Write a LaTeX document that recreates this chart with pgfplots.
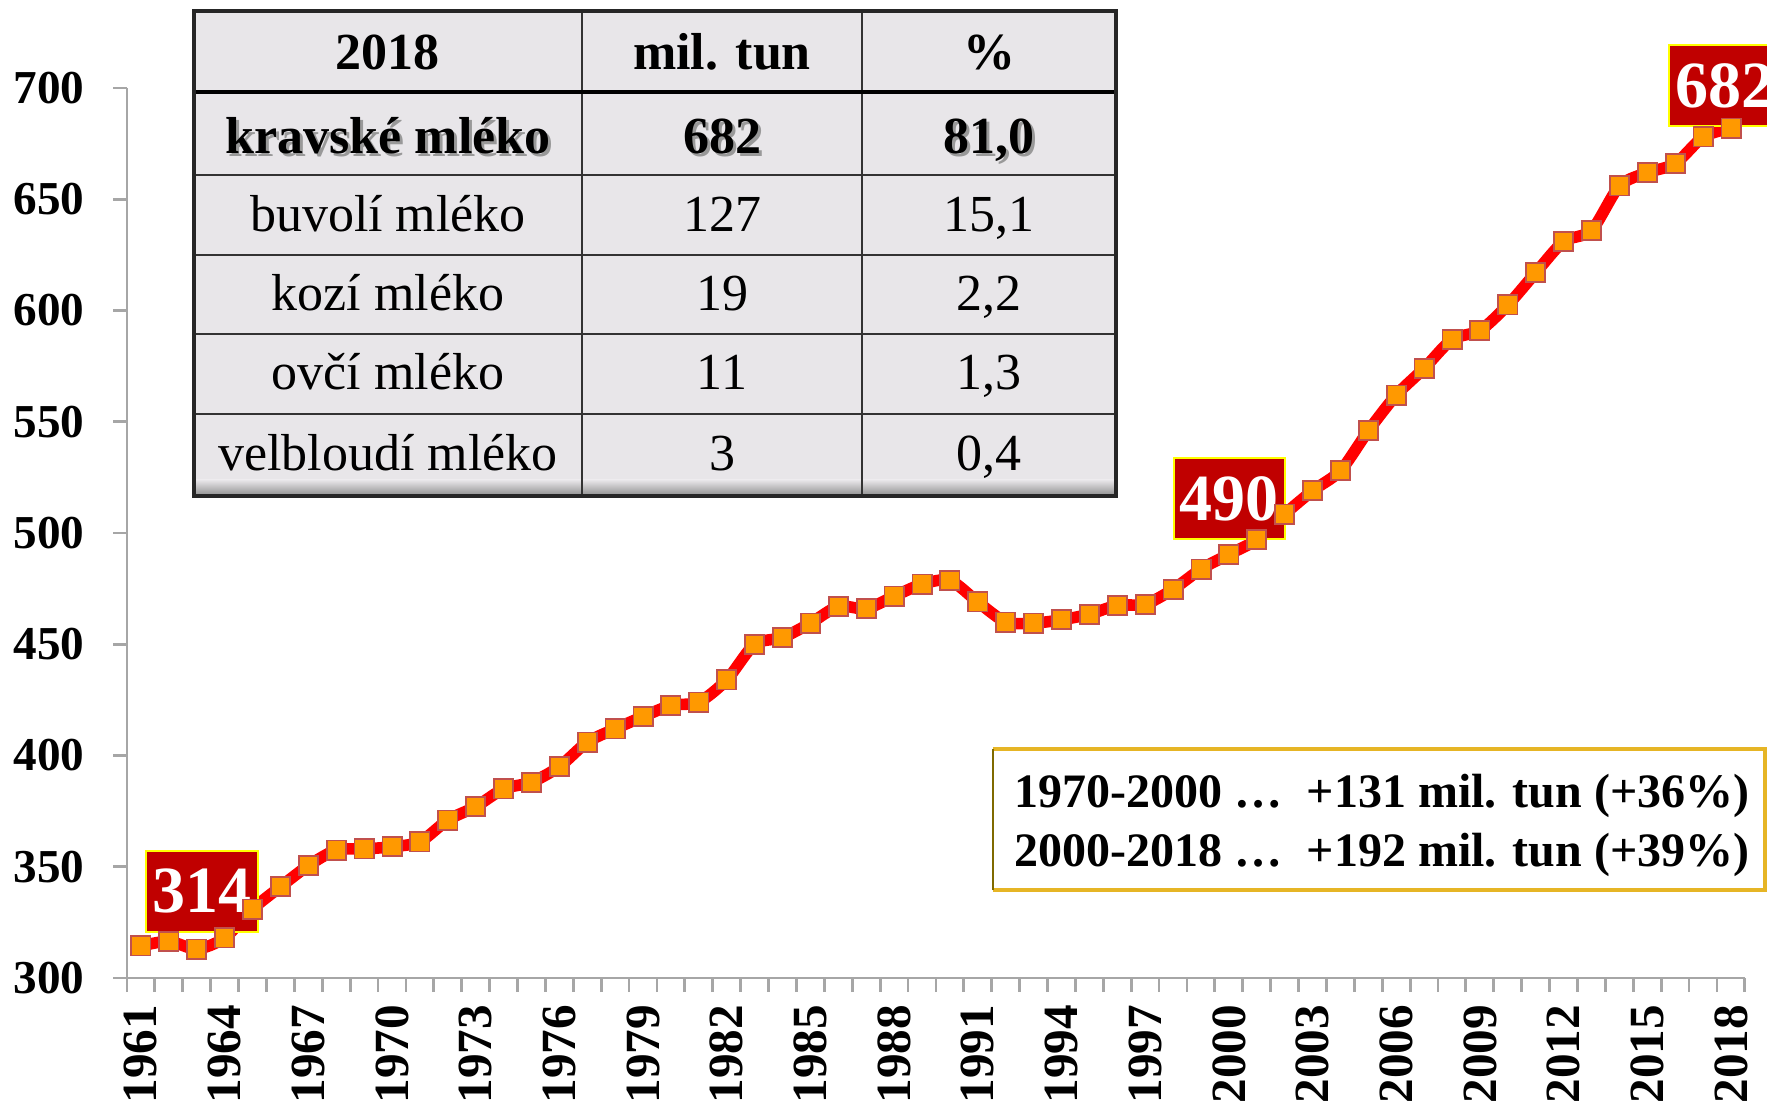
\documentclass[border=0pt]{standalone}
\usepackage{fontspec}
\setmainfont{Liberation Serif}
\usepackage{pgfplots}
\usepackage{pgfplotstable}
\pgfplotsset{compat=1.18}
\definecolor{linered}{HTML}{FF0000}
\definecolor{markfill}{HTML}{FF9900}
\definecolor{markdraw}{HTML}{C0504D}
\definecolor{boxred}{HTML}{C00000}
\definecolor{boxyel}{HTML}{FFFF00}
\definecolor{tabgray}{HTML}{E8E6E9}
\definecolor{axgray}{HTML}{A6A6A6}
\definecolor{gold}{HTML}{E6B525}
\definecolor{olivec}{HTML}{7F6A00}

\pgfplotstableread{
year value
1961 314.4
1962 316.5
1963 313.0
1964 318.0
1965 331.0
1966 341.0
1967 350.5
1968 357.5
1969 358.0
1970 359.0
1971 361.2
1972 371.0
1973 377.0
1974 385.0
1975 388.0
1976 395.0
1977 406.0
1978 412.0
1979 417.5
1980 422.5
1981 424.0
1982 434.0
1983 450.0
1984 453.0
1985 459.5
1986 467.0
1987 466.0
1988 471.6
1989 477.0
1990 478.7
1991 469.0
1992 460.0
1993 459.5
1994 461.0
1995 463.5
1996 467.5
1997 468.0
1998 474.7
1999 483.8
2000 490.4
2001 497.0
2002 508.5
2003 519.0
2004 528.0
2005 546.0
2006 562.0
2007 574.0
2008 587.0
2009 591.0
2010 602.5
2011 617.0
2012 631.0
2013 636.0
2014 656.0
2015 662.0
2016 666.0
2017 678.0
2018 682.0
}\milk

\begin{document}
\begin{tikzpicture}
\useasboundingbox (-31.75pt,-31.5pt) rectangle (410pt,244.5pt);
\clip (-31.75pt,-31.5pt) rectangle (410pt,244.5pt);
\begin{axis}[
  name=ax, at={(0pt,0pt)}, anchor=south west,
  scale only axis, width=404.5pt, height=222.5pt,
  xmin=1960.5, xmax=2018.5, ymin=300, ymax=700,
  axis x line*=bottom, axis y line*=left,
  x axis line style={draw=axgray, line width=0.7pt, -},
  y axis line style={draw=axgray, line width=0.7pt, -},
  clip=false,
  ytick={300,350,...,700},
  xtick={1960.5,1961.5,...,2018.5},
  xticklabels={},
  extra x ticks={1961,1964,1967,1970,1973,1976,1979,1982,1985,1988,1991,1994,1997,2000,2003,2006,2009,2012,2015,2018},
  extra x tick labels={1961,1964,1967,1970,1973,1976,1979,1982,1985,1988,1991,1994,1997,2000,2003,2006,2009,2012,2015,2018},
  extra x tick style={major tick length=0pt, tick style={draw=none}},
  tick align=outside,
  major tick length=3.5pt,
  tick style={draw=axgray, line width=0.7pt},
  /pgf/number format/assume math mode=true,
  /pgf/number format/1000 sep={},
  yticklabel style={font=\bfseries\fontsize{11.8}{12}\selectfont, anchor=east, inner sep=0pt, xshift=-7pt},
  xticklabel style={font=\bfseries\fontsize{12.3}{12}\selectfont, rotate=90, anchor=east, inner ysep=0pt, inner xsep=6.5pt},
]
\addplot[linered, line width=2.9pt, smooth, tension=0.45,
  mark=square*, mark size=2.4pt,
  mark options={fill=markfill, draw=markdraw, line width=0.45pt, solid}]
  table[x=year, y=value] {\milk};

\node[fill=boxred, draw=boxyel, line width=0.5pt, text=white,
  font=\bfseries\fontsize{16.5}{16}\selectfont, minimum width=28pt,
  minimum height=20.25pt, inner sep=0pt] at (axis cs:1963.19,338.9) {314};
\node[fill=boxred, draw=boxyel, line width=0.5pt, text=white,
  font=\bfseries\fontsize{16.5}{16}\selectfont, minimum width=27.75pt,
  minimum height=20.25pt, inner sep=0pt] at (axis cs:2000.02,515.3) {490};
\node[fill=boxred, draw=boxyel, line width=0.5pt, text=white,
  font=\bfseries\fontsize{16.5}{16}\selectfont, minimum width=28pt,
  minimum height=20.25pt, inner sep=0pt] at (axis cs:2017.78,701.1) {682};
\end{axis}

% ---- table ----
\fill[tabgray] (16.75pt,120.5pt) rectangle (247.25pt,241.75pt);
\shade[top color=tabgray, bottom color=black!45] (16.75pt,120.5pt) rectangle (247.25pt,124.5pt);
\draw[black!80, line width=0.6pt]
  (16.75pt,200.75pt) -- (247.25pt,200.75pt)
  (16.75pt,180.75pt) -- (247.25pt,180.75pt)
  (16.75pt,161pt) -- (247.25pt,161pt)
  (16.75pt,141pt) -- (247.25pt,141pt)
  (113.75pt,120.5pt) -- (113.75pt,241.75pt)
  (183.75pt,120.5pt) -- (183.75pt,241.75pt);
\draw[black, line width=0.9pt]
  (16.75pt,221.5pt) -- (247.25pt,221.5pt);
\draw[black!85, line width=1.1pt] (16.75pt,120.5pt) rectangle (247.25pt,241.75pt);

\begin{scope}[every node/.style={anchor=mid, inner sep=0pt, font=\fontsize{13}{13}\selectfont}]
\node[font=\bfseries\fontsize{13}{13}\selectfont] at (65.25pt,229.3pt) {2018};
\node[font=\bfseries\fontsize{13}{13}\selectfont] at (148.75pt,229.3pt) {mil. tun};
\node[font=\bfseries\fontsize{13}{13}\selectfont] at (215.5pt,229.3pt) {\%};
% shadowed bold row
\node[text=black!40, font=\bfseries\fontsize{13}{13}\selectfont] at (66.05pt,207.7pt) {kravské mléko};
\node[text=black!40, font=\bfseries\fontsize{13}{13}\selectfont] at (149.55pt,207.7pt) {682};
\node[text=black!40, font=\bfseries\fontsize{13}{13}\selectfont] at (216.3pt,207.7pt) {81,0};
\node[font=\bfseries\fontsize{13}{13}\selectfont] at (65.25pt,208.5pt) {kravské mléko};
\node[font=\bfseries\fontsize{13}{13}\selectfont] at (148.75pt,208.5pt) {682};
\node[font=\bfseries\fontsize{13}{13}\selectfont] at (215.5pt,208.5pt) {81,0};
\node at (65.25pt,189pt) {buvolí mléko};
\node at (148.75pt,189pt) {127};
\node at (215.5pt,189pt) {15,1};
\node at (65.25pt,169.2pt) {kozí mléko};
\node at (148.75pt,169.2pt) {19};
\node at (215.5pt,169.2pt) {2,2};
\node at (65.25pt,149.3pt) {ovčí mléko};
\node at (148.75pt,149.3pt) {11};
\node at (215.5pt,149.3pt) {1,3};
\node at (65.25pt,129.2pt) {velbloudí mléko};
\node at (148.75pt,129.2pt) {3};
\node at (215.5pt,129.2pt) {0,4};
\end{scope}

% ---- annotation box ----
\fill[white] (216.5pt,22pt) rectangle (409.5pt,57.25pt);
\draw[gold, line width=1pt] (216.5pt,57.25pt) -- (409.5pt,57.25pt) -- (409.5pt,22pt) -- (216.5pt,22pt);
\draw[olivec, line width=0.7pt] (216.5pt,22pt) -- (216.5pt,57.25pt);
\node[anchor=mid west, inner sep=0pt, font=\bfseries\fontsize{12}{12}\selectfont]
  at (221.75pt,45pt) {1970-2000 …\ \ +131 mil. tun (+36\%)};
\node[anchor=mid west, inner sep=0pt, font=\bfseries\fontsize{12}{12}\selectfont]
  at (221.75pt,30.25pt) {2000-2018 …\ \ +192 mil. tun (+39\%)};
\end{tikzpicture}
\end{document}
